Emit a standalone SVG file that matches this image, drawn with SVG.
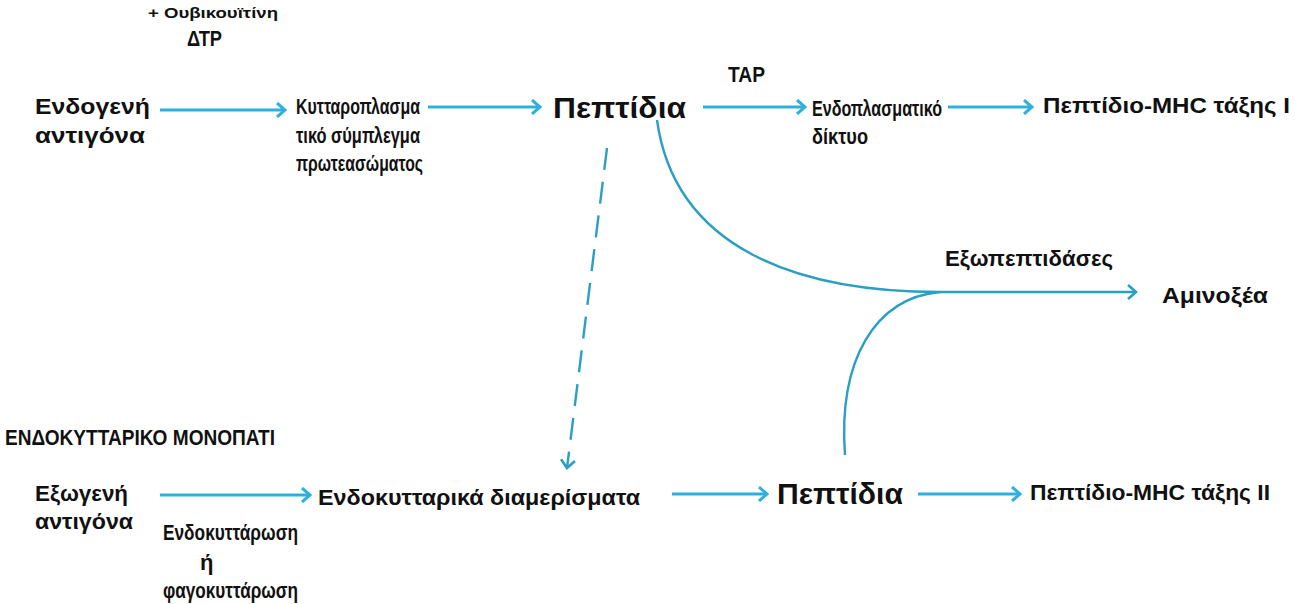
<svg xmlns="http://www.w3.org/2000/svg" width="1295" height="604" viewBox="0 0 1295 604">
<style>
.t{font-family:"Liberation Sans",Arial,sans-serif;font-weight:bold;font-size:22px;fill:#111}
.big{font-family:"Liberation Sans",Arial,sans-serif;font-weight:bold;font-size:29px;fill:#111}
.sm{font-family:"Liberation Sans",Arial,sans-serif;font-weight:bold;font-size:15px;fill:#111}
.a{stroke:#2fb0dc;stroke-width:3.2;fill:none;marker-end:url(#ah)}
.c{stroke:#2a9fc4;stroke-width:2.4;fill:none}
</style>
<defs>
<marker id="ah" viewBox="0 0 12 16" refX="10" refY="8" markerWidth="12" markerHeight="16" markerUnits="userSpaceOnUse" orient="auto">
<polyline points="2,1 10,8 2,15" fill="none" stroke="#2fb0dc" stroke-width="3"/>
</marker>
<marker id="ah2" viewBox="0 0 12 16" refX="10" refY="8" markerWidth="12" markerHeight="16" markerUnits="userSpaceOnUse" orient="auto">
<polyline points="2,1 10,8 2,15" fill="none" stroke="#2a9fc4" stroke-width="2.6"/>
</marker>
</defs>
<rect width="1295" height="604" fill="#fff"/>
<g id="connectors">
<line class="a" x1="160" y1="110" x2="285" y2="110"/>
<line class="a" x1="428" y1="107" x2="540" y2="107"/>
<line class="a" x1="703" y1="107" x2="805" y2="107"/>
<line class="a" x1="948" y1="107" x2="1032" y2="107"/>
<line class="c" x1="607" y1="148" x2="567" y2="468" stroke-dasharray="22,12" marker-end="url(#ah2)"/>
<path class="c" d="M657,120 C675,250 800,292 940,292"/>
<path class="c" d="M845,455 C838,360 875,298 940,292"/>
<line class="c" x1="940" y1="292" x2="1136" y2="292" marker-end="url(#ah2)"/>
<line class="a" x1="160" y1="495" x2="310" y2="495"/>
<line class="a" x1="672" y1="494" x2="767" y2="494"/>
<line class="a" x1="918" y1="494" x2="1020" y2="494"/>
</g>
<g id="n-endogenous"><text class="t" x="35" y="114" textLength="115" lengthAdjust="spacingAndGlyphs">Ενδογενή</text><text class="t" x="35" y="143" textLength="110" lengthAdjust="spacingAndGlyphs">αντιγόνα</text></g>
<g id="l-ubiq"><text class="sm" x="148" y="18" textLength="130" lengthAdjust="spacingAndGlyphs">+ Ουβικουϊτίνη</text><text class="t" x="187" y="46" textLength="35" lengthAdjust="spacingAndGlyphs">ΔΤΡ</text></g>
<g id="n-proteasome"><text class="t" x="296" y="114" textLength="124" lengthAdjust="spacingAndGlyphs">Κυτταροπλασμα</text><text class="t" x="296" y="143" textLength="124" lengthAdjust="spacingAndGlyphs">τικό σύμπλεγμα</text><text class="t" x="296" y="171" textLength="127" lengthAdjust="spacingAndGlyphs">πρωτεασώματος</text></g>
<g id="n-peptides1"><text class="big" x="553" y="118" textLength="133" lengthAdjust="spacingAndGlyphs">Πεπτίδια</text></g>
<g id="l-tap"><text class="t" x="728" y="82" textLength="37" lengthAdjust="spacingAndGlyphs">TAP</text></g>
<g id="n-er"><text class="t" x="812" y="116" textLength="130" lengthAdjust="spacingAndGlyphs">Ενδοπλασματικό</text><text class="t" x="812" y="144" textLength="56" lengthAdjust="spacingAndGlyphs">δίκτυο</text></g>
<g id="n-mhc1"><text class="t" x="1043" y="113" textLength="247" lengthAdjust="spacingAndGlyphs">Πεπτίδιο-ΜΗC τάξης Ι</text></g>
<g id="l-exo"><text class="t" x="945" y="266" textLength="168" lengthAdjust="spacingAndGlyphs">Εξωπεπτιδάσες</text></g>
<g id="n-amino"><text class="t" x="1162" y="303" textLength="106" lengthAdjust="spacingAndGlyphs">Αμινοξέα</text></g>
<g id="title"><text class="t" x="5" y="445" textLength="270" lengthAdjust="spacingAndGlyphs">ΕΝΔΟΚΥΤΤΑΡΙΚΟ ΜΟΝΟΠΑΤΙ</text></g>
<g id="n-exogenous"><text class="t" x="35" y="501" textLength="93" lengthAdjust="spacingAndGlyphs">Εξωγενή</text><text class="t" x="35" y="529" textLength="98" lengthAdjust="spacingAndGlyphs">αντιγόνα</text></g>
<g id="l-endo"><text class="t" x="163" y="540" textLength="135" lengthAdjust="spacingAndGlyphs">Ενδοκυττάρωση</text><text class="t" x="200" y="570">ή</text><text class="t" x="163" y="598" textLength="135" lengthAdjust="spacingAndGlyphs">φαγοκυττάρωση</text></g>
<g id="n-compart"><text class="t" x="318" y="505" textLength="322" lengthAdjust="spacingAndGlyphs">Ενδοκυτταρικά διαμερίσματα</text></g>
<g id="n-peptides2"><text class="big" x="777" y="504" textLength="126" lengthAdjust="spacingAndGlyphs">Πεπτίδια</text></g>
<g id="n-mhc2"><text class="t" x="1030" y="500" textLength="240" lengthAdjust="spacingAndGlyphs">Πεπτίδιο-ΜΗC τάξης ΙΙ</text></g>
</svg>
